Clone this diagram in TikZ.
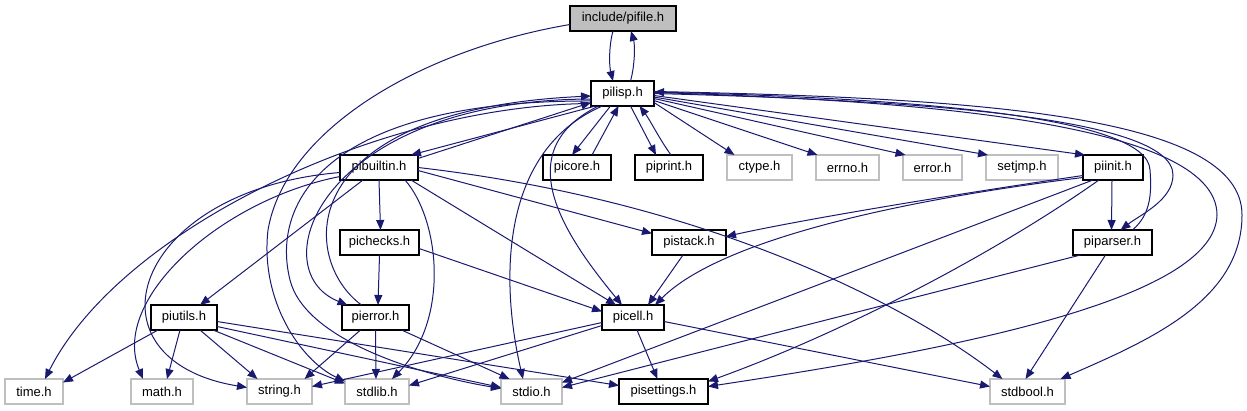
\documentclass[tikz,border=0pt]{standalone}
\usepackage{fontspec}
\setmainfont{Liberation Sans}
\usetikzlibrary{arrows.meta,calc}
\definecolor{edgecol}{HTML}{191970}
\definecolor{grayfill}{HTML}{BFBFBF}
\definecolor{sysborder}{HTML}{BFBFBF}
\begin{document}
\begin{tikzpicture}[x=1pt,y=-1pt,
  file/.style={draw=black, line width=1.1pt, minimum height=25pt, inner sep=0pt, fill=white,
    font=\fontsize{13}{15}\selectfont},
  sys/.style={file, draw=sysborder},
  dep/.style={draw=edgecol, line width=1pt, -{Triangle[length=10pt,width=8pt]}},
]
\useasboundingbox (0,0) rectangle (1247,411);
% nodes
\node[file, minimum width=106pt, fill=grayfill] (pifile) at (623,18.5) {include/pifile.h};
\node[file, minimum width=63pt] (pilisp) at (622.5,93.5) {pilisp.h};
\node[file, minimum width=78pt] (pibuiltin) at (379,167.5) {pibuiltin.h};
\node[file, minimum width=68pt] (picore) at (577,167.5) {picore.h};
\node[file, minimum width=68pt] (piprint) at (669,167.5) {piprint.h};
\node[sys, minimum width=65pt] (nctype) at (759.5,167.5) {ctype.h};
\node[sys, minimum width=63pt] (nerrno) at (847.5,167.5) {errno.h};
\node[sys, minimum width=59pt] (nerror) at (932.5,167.5) {error.h};
\node[sys, minimum width=72pt] (nsetjmp) at (1022,167.5) {setjmp.h};
\node[file, minimum width=60pt] (piinit) at (1113,167.5) {piinit.h};
\node[file, minimum width=79pt] (pichecks) at (379.5,242.5) {pichecks.h};
\node[file, minimum width=74pt] (pistack) at (689,242.5) {pistack.h};
\node[file, minimum width=79pt] (piparser) at (1112.5,242.5) {piparser.h};
\node[file, minimum width=66pt] (piutils) at (184,317.5) {piutils.h};
\node[file, minimum width=67pt] (pierror) at (375.5,317.5) {pierror.h};
\node[file, minimum width=62pt] (picell) at (633,317.5) {picell.h};
\node[sys, minimum width=58pt] (ntime) at (34,391.5) {time.h};
\node[sys, minimum width=62pt] (nmath) at (162,391.5) {math.h};
\node[sys, minimum width=65pt] (nstring) at (279.5,391.5) {string.h};
\node[sys, minimum width=64pt] (nstdlib) at (377,391.5) {stdlib.h};
\node[sys, minimum width=61pt] (nstdio) at (531.5,391.5) {stdio.h};
\node[file, minimum width=89pt] (pisettings) at (663.5,391.5) {pisettings.h};
\node[sys, minimum width=75pt] (nstdbool) at (1027.5,391.5) {stdbool.h};
% edges
\draw[dep] ($(pifile)+(-10,12.5)$) .. controls (609,45) and (609,65) .. ($(pilisp)+(-9.5,-12.5)$);
\draw[dep] ($(pilisp)+(8,-12.5)$) .. controls (635,65) and (635,45) .. ($(pifile)+(8,12.5)$);
\draw[dep] ($(pilisp)+(-27,12.5)$) -- ($(pibuiltin)+(32,-12.5)$);
\draw[dep] ($(pibuiltin)+(39,-9)$) -- ($(pilisp)+(-31.5,9)$);
\draw[dep] ($(pilisp)+(-12,12.5)$) -- ($(picore)+(-5,-12.5)$);
\draw[dep] ($(picore)+(15,-12.5)$) -- ($(pilisp)+(-4,12.5)$);
\draw[dep] ($(pilisp)+(8,12.5)$) -- ($(piprint)+(-13,-12.5)$);
\draw[dep] ($(piprint)+(2,-12.5)$) .. controls (660,140) and (650,120) .. ($(pilisp)+(17,12.5)$);
\draw[dep] ($(pilisp)+(31.5,9)$) -- ($(nctype)+(-25,-12.5)$);
\draw[dep] ($(pilisp)+(31.5,7)$) -- ($(nerrno)+(-30,-12.5)$);
\draw[dep] ($(pilisp)+(31.5,5)$) -- ($(nerror)+(-27,-12.5)$);
\draw[dep] ($(pilisp)+(31.5,3.5)$) -- ($(nsetjmp)+(-34,-12.5)$);
\draw[dep] ($(pilisp)+(31.5,2)$) -- ($(piinit)+(-28,-12.5)$);
\draw[dep] ($(pilisp)+(31.5,0)$) .. controls (900,100) and (1173,115) .. (1173,175) .. controls (1173,200) and (1140,215) .. ($(piparser)+(8,-12.5)$);
\draw[dep] ($(piparser)+(20,-12.5)$) .. controls (1150,215) and (1152,195) .. (1150,170) .. controls (1148,115) and (900,98) .. ($(pilisp)+(31.5,-1.5)$);
\draw[dep] ($(pilisp)+(31.5,-1)$) .. controls (900,100) and (1217,120) .. (1217,215) .. controls (1215,300) and (950,350) .. ($(pisettings)+(44.5,-5)$);
\draw[dep] ($(pilisp)+(31.5,-2)$) .. controls (980,98) and (1242,115) .. (1242,215) .. controls (1242,300) and (1150,340) .. ($(nstdbool)+(33,-12.5)$);
\draw[dep] ($(piinit)+(-1,12.5)$) -- ($(piparser)+(-1,-12.5)$);
\draw[dep] ($(piinit)+(-30,8)$) .. controls (950,195) and (800,220) .. ($(pistack)+(37,-6)$);
\draw[dep] ($(piinit)+(-30,10)$) .. controls (900,200) and (720,240) .. ($(picell)+(22,-12.5)$);
\draw[dep] ($(piinit)+(-20,12.5)$) -- ($(nstdio)+(30.5,-9)$);
\draw[dep] ($(piinit)+(-14,12.5)$) .. controls (1000,250) and (850,330) .. ($(pisettings)+(44.5,-10)$);
\draw[dep] ($(piparser)+(-32,12.5)$) -- ($(nstdio)+(30.5,-4)$);
\draw[dep] ($(piparser)+(-7,12.5)$) -- ($(nstdbool)+(-2,-12.5)$);
\draw[dep] ($(pistack)+(-6,12.5)$) -- ($(picell)+(15,-12.5)$);
\draw[dep] ($(pibuiltin)+(39,3)$) -- ($(pistack)+(-37,-9)$);
\draw[dep] ($(pibuiltin)+(39,0)$) .. controls (700,200) and (900,300) .. ($(nstdbool)+(-25,-12.5)$);
\draw[dep] ($(pibuiltin)+(32,12.5)$) -- ($(picell)+(-17,-12.5)$);
\draw[dep] ($(pibuiltin)+(26,12.5)$) .. controls (440,220) and (450,320) .. ($(nstdlib)+(15,-12.5)$);
\draw[dep] ($(pibuiltin)+(0,12.5)$) -- ($(pichecks)+(1,-12.5)$);
\draw[dep] ($(pibuiltin)+(-16,12.5)$) -- ($(piutils)+(16,-12.5)$);
\draw[dep] ($(pibuiltin)+(-39,9)$) .. controls (220,200) and (110,300) .. ($(nmath)+(-19,-12.5)$);
\draw[dep] ($(pibuiltin)+(-39,5)$) .. controls (130,190) and (80,360) .. ($(nstring)+(-32.5,-4)$);
\draw[dep] ($(pichecks)+(0,12.5)$) -- ($(pierror)+(2.5,-12.5)$);
\draw[dep] ($(pichecks)+(39.5,6)$) -- ($(picell)+(-31,-6)$);
\draw[dep] ($(piutils)+(-26,12.5)$) -- ($(ntime)+(29,-9)$);
\draw[dep] ($(piutils)+(-4,12.5)$) -- ($(nmath)+(5,-12.5)$);
\draw[dep] ($(piutils)+(16,12.5)$) -- ($(nstring)+(-22,-12.5)$);
\draw[dep] ($(piutils)+(29,12.5)$) -- ($(nstdlib)+(-32,-8)$);
\draw[dep] ($(piutils)+(33,9)$) -- ($(nstdio)+(-30.5,-4)$);
\draw[dep] ($(piutils)+(33,4)$) -- ($(pisettings)+(-44.5,-6)$);
\draw[dep] ($(pierror)+(-15,12.5)$) -- ($(nstring)+(25,-12.5)$);
\draw[dep] ($(pierror)+(0,12.5)$) -- ($(nstdlib)+(-1,-12.5)$);
\draw[dep] ($(pierror)+(26,12.5)$) -- ($(nstdio)+(-22,-12.5)$);
\draw[dep] ($(pierror)+(-14,-12.5)$) .. controls (300,260) and (290,110) .. ($(pilisp)+(-31.5,2.5)$);
\draw[dep] ($(pilisp)+(-31.5,5.5)$) .. controls (320,100) and (260,270) .. ($(pierror)+(-28,-12.5)$);
\draw[dep] ($(picell)+(-31,5)$) -- ($(nstring)+(32.5,-5)$);
\draw[dep] ($(picell)+(-31,8)$) -- ($(nstdlib)+(32,-6)$);
\draw[dep] ($(picell)+(4,12.5)$) -- ($(pisettings)+(-6,-12.5)$);
\draw[dep] ($(picell)+(31,4)$) -- ($(nstdbool)+(-37.5,-5)$);
\draw[dep] ($(pilisp)+(-20,12.5)$) .. controls (500,150) and (500,280) .. ($(nstdio)+(-8.5,-12.5)$);
\draw[dep] ($(pilisp)+(-24,12.5)$) .. controls (510,150) and (560,230) .. ($(picell)+(-11,-12.5)$);
\draw[dep] ($(pilisp)+(-31.5,10)$) .. controls (380,105) and (120,230) .. ($(ntime)+(11,-12.5)$);
\draw[dep] ($(pilisp)+(-31.5,7.5)$) .. controls (330,100) and (270,200) .. (290,280) .. controls (305,340) and (420,375) .. ($(nstdio)+(-30.5,-3)$);
\draw[dep] ($(pifile)+(-53,6)$) .. controls (420,50) and (285,130) .. (268,230) .. controls (260,300) and (300,360) .. ($(nstdlib)+(-32,-10)$);
\end{tikzpicture}
\end{document}
